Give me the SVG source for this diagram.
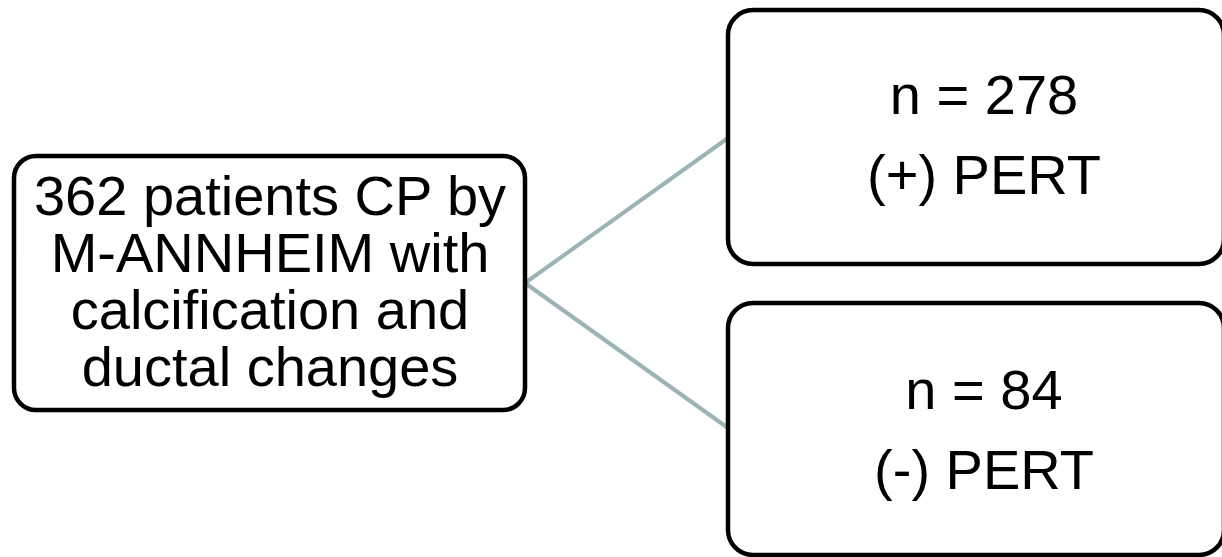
<svg xmlns="http://www.w3.org/2000/svg" width="1222" height="557" viewBox="0 0 1222 557">
<style>
.box{fill:#ffffff;stroke:#000000;stroke-width:4.5}
.conn{stroke:#9bb4b6;stroke-width:4;fill:none}
.t{font-family:"Liberation Sans",Arial,sans-serif;font-size:56px;fill:#000000;text-anchor:middle}
</style>
<rect width="1222" height="557" fill="#ffffff"/>
<g id="connectors">
<line class="conn" x1="525" y1="283" x2="728" y2="138"/>
<line class="conn" x1="525" y1="283" x2="728" y2="428"/>
</g>
<g id="node-source">
<rect class="box" x="14" y="156" width="511" height="254" rx="22" ry="22"/>
<text class="t" x="270" y="215">362 patients CP by</text>
<text class="t" x="270" y="272">M-ANNHEIM with</text>
<text class="t" x="270" y="329">calcification and</text>
<text class="t" x="270" y="386">ductal changes</text>
</g>
<g id="node-pert-pos">
<rect class="box" x="728" y="10" width="496" height="254" rx="25" ry="25"/>
<text class="t" x="984" y="114">n = 278</text>
<text class="t" x="984" y="194">(+) PERT</text>
</g>
<g id="node-pert-neg">
<rect class="box" x="728" y="303" width="496" height="252" rx="25" ry="25"/>
<text class="t" x="984" y="409">n = 84</text>
<text class="t" x="984" y="489">(-) PERT</text>
</g>
</svg>
